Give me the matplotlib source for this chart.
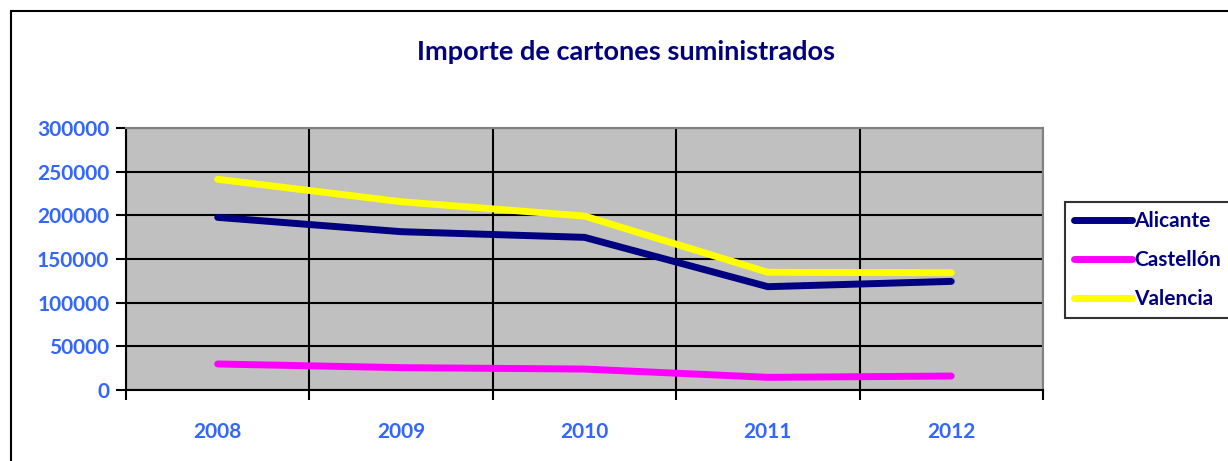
import matplotlib
matplotlib.use("Agg")
import matplotlib.pyplot as plt
from matplotlib.patches import Rectangle

# ==============================
# Data
# ==============================
years = ["2008", "2009", "2010", "2011", "2012"]
alicante = [197700, 181300, 174800, 118300, 124400]
castellon = [29800, 25600, 24000, 14500, 16000]
valencia = [241300, 215600, 199200, 134800, 134300]

series_names = ["Alicante", "Castellón", "Valencia"]
series_colors = ["#000080", "#FF00FF", "#FFFF00"]

y_ticks = [0, 50000, 100000, 150000, 200000, 250000, 300000]

navy = "#000080"
tick_blue = "#3366FF"

plt.rcParams['font.family'] = ['Lato', 'DejaVu Sans']

fig = plt.figure(figsize=(12.28, 4.61), dpi=100)
ax = fig.add_axes([0.1026, 0.154, 0.7467, 0.5683])

# outer chart border (runs off the right and bottom edges)
fig.patches.append(Rectangle((0.009, -0.2), 1.3, 1.176, transform=fig.transFigure,
                             fill=False, edgecolor="black", linewidth=1.5, clip_on=False))

x = list(range(len(years)))
for name, vals, col in zip(series_names, [alicante, castellon, valencia], series_colors):
    ax.plot(x, vals, color=col, linewidth=5, solid_capstyle="round",
            solid_joinstyle="round", label=name, zorder=3)

ax.set_facecolor("#C0C0C0")
ax.set_xlim(-0.5, len(years) - 0.5)
ax.set_ylim(0, 300000)

# category ticks sit between the years, labels centred on them
ax.set_xticks([i - 0.5 for i in range(len(years) + 1)])
ax.set_xticklabels([])
ax.set_xticks(x, minor=True)
ax.set_xticklabels(years, minor=True)
ax.tick_params(axis="x", which="minor", length=0, pad=23)
ax.tick_params(axis="x", which="major", length=7, width=1.5, color="black")

ax.set_yticks(y_ticks)
ax.set_yticklabels([str(v) for v in y_ticks])
ax.tick_params(axis="y", length=7, width=1.5, color="black", pad=5)

for lab in ax.get_xticklabels(minor=True) + ax.get_yticklabels():
    lab.set_color(tick_blue)
    lab.set_fontweight("bold")
    lab.set_fontsize(15)

ax.grid(True, which="major", color="black", linewidth=1.5, zorder=1)
ax.set_axisbelow(True)

ax.spines["left"].set_linewidth(1.5)
ax.spines["bottom"].set_linewidth(1.5)
ax.spines["top"].set_color("#808080")
ax.spines["right"].set_color("#808080")
ax.spines["top"].set_linewidth(1.5)
ax.spines["right"].set_linewidth(1.5)

fig.text(0.51, 0.888, "Importe de cartones suministrados", ha="center", va="center",
         color=navy, fontsize=19.5, fontweight="bold")

leg = fig.legend(loc="upper left", bbox_to_anchor=(0.867, 0.562), frameon=True,
                 fancybox=False, edgecolor="black", handlelength=2.8,
                 handletextpad=0.1, labelspacing=0.9, borderpad=0.45,
                 borderaxespad=0, prop={"weight": "bold", "size": 15})
leg.get_frame().set_linewidth(1.5)
for t in leg.get_texts():
    t.set_color(navy)

fig.savefig("out.png", dpi=100)
